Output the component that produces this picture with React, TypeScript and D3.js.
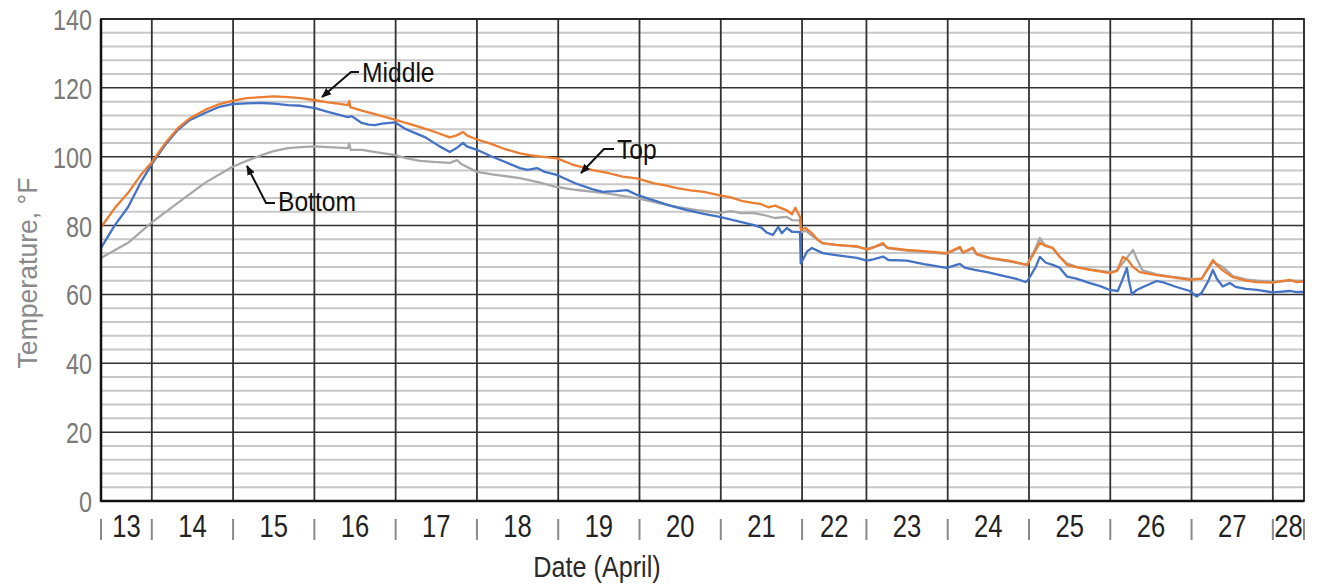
import * as d3 from 'd3'

// day labels along the bottom and how many logged hours fall in each day
const days = [13, 14, 15, 16, 17, 18, 19, 20, 21, 22, 23, 24, 25, 26, 27, 28]
const dayHours = [15, 24, 24, 24, 24, 24, 24, 24, 24, 19, 24, 24, 24, 24, 24, 9.2]

const yTicks = [0, 20, 40, 60, 80, 100, 120, 140]

// [hours since start of record, temperature F]
const middle: [number, number][] = [
  [0, 79.5], [4, 85], [8, 89.5], [12, 95], [15.1, 98.5], [19, 104], [22.7, 108.3], [26, 111],
  [30.7, 113.6], [35, 115.3], [38.7, 116.2], [43, 117], [47.5, 117.3], [51, 117.5], [55.2, 117.3],
  [59, 117], [63.2, 116.4], [67, 115.8], [70, 115.4], [72.9, 115], [73.3, 116.2], [73.6, 114.4],
  [77, 113.4], [80.9, 112.4], [84, 111.5], [86.8, 110.8], [90, 109.8], [94.2, 108.6], [98, 107.4],
  [103, 105.6], [105, 106.2], [106.9, 107.2], [108, 106.2], [111, 105], [115, 103.8], [119, 102.3],
  [123.7, 101], [127, 100.4], [130, 100], [134.6, 99.5], [139, 97.8], [145.2, 96.1], [150, 95.2],
  [154, 94.2], [158.2, 93.7], [163, 92.3], [167, 91.6], [170, 90.9], [174, 90.2], [178, 89.8],
  [182.7, 88.8], [186, 88.2], [189, 87.2], [192.5, 86.6], [195, 86.2], [197, 85.3], [199, 85.8],
  [202.5, 84.4], [204, 83.3], [205, 85.2], [206.4, 82.5], [206.7, 78.7], [208, 79.3], [209.9, 77.8],
  [211.5, 76], [213.1, 74.9], [217, 74.4], [220, 74.2], [223.2, 74], [226.1, 73], [228, 73.6],
  [230.9, 74.9], [232, 73.6], [237.9, 72.9], [243, 72.6], [249.7, 72], [253.6, 73.8], [254.5, 72.2],
  [257.4, 73.6], [258.5, 71.8], [262.4, 70.6], [268, 69.8], [273.4, 68.6], [275.5, 72], [277.2, 75],
  [279, 74], [281, 73.5], [283, 71], [285.2, 68.6], [288, 67.9], [292, 67.1], [297.9, 66.2],
  [300, 66.8], [301.7, 70.9], [303, 70.2], [304.7, 68], [306.7, 66.5], [311.7, 65.6], [316, 65],
  [321.5, 64.2], [325, 64.6], [328.3, 70], [329.5, 68.5], [331.2, 67], [334.2, 65], [338, 64],
  [341.3, 63.6], [346, 63.4], [351, 64.2], [353, 63.6], [355.2, 63.8],
]

const top: [number, number][] = [
  [0, 73.5], [4, 80], [8, 85.4], [12, 93], [15.1, 98], [19, 103.5], [22.7, 107.8], [26, 110.5],
  [30.7, 112.7], [35, 114.5], [38.7, 115.3], [43, 115.5], [47.5, 115.6], [51, 115.4], [55.2, 115],
  [59, 114.8], [63.2, 114.1], [67, 113], [72.9, 111.5], [74, 111.8], [77, 109.8], [79, 109.3],
  [80.9, 109.2], [83, 109.6], [86.8, 110], [90, 108], [95.6, 105.7], [100, 103], [103, 101.4],
  [105, 102.5], [106.9, 104], [108, 103], [111, 102], [115, 100.2], [119, 98.6], [123.7, 96.7],
  [126, 96.2], [128.7, 96.7], [131, 95.6], [134.6, 94.7], [140, 92.3], [145, 90.6], [148.2, 89.8],
  [152, 90], [155.3, 90.3], [158, 89], [163, 87.4], [168, 85.8], [173, 84.5], [178, 83.4],
  [182.7, 82.5], [187, 81.5], [192.5, 80.2], [195, 79.4], [196.5, 78], [198.4, 77.3], [200, 79.6],
  [201, 77.8], [202.5, 79.3], [204, 78.2], [206.4, 78.1], [206.6, 69], [207.2, 70], [208.5, 72.5],
  [209.9, 73.5], [213.1, 72], [217, 71.4], [223.2, 70.6], [226.1, 69.8], [228, 70.2], [230.9, 71],
  [232.5, 70], [237.9, 69.8], [243, 68.8], [249.7, 67.7], [253.6, 68.9], [255, 67.8], [258, 67.1],
  [262, 66.4], [265.4, 65.6], [270, 64.6], [273, 63.6], [273.6, 64], [274.2, 65], [276, 68],
  [277.2, 70.9], [279, 69.2], [281, 68.6], [283, 67.8], [285.2, 65.2], [288, 64.6], [292, 63.3],
  [295, 62.4], [297.9, 61.3], [300.2, 61], [301.5, 64], [302.9, 67.7], [303.5, 64], [304.4, 60],
  [305.8, 61.3], [308, 62.3], [311.7, 63.9], [314, 63.4], [317.1, 62.3], [321.5, 61], [323.5, 59.4],
  [325, 60.5], [327, 64], [328.3, 67.1], [329.5, 64.5], [331.2, 62.3], [333.3, 63.3], [335, 62.2],
  [338, 61.6], [341.3, 61.3], [346, 60.6], [351, 61], [353, 60.7], [355.2, 60.7],
]

const bottom: [number, number][] = [
  [0, 70.6], [8, 75], [15.1, 81], [22.7, 86.6], [30.7, 92.4], [38.7, 97], [43, 98.8], [47.5, 100.5],
  [51, 101.6], [55.2, 102.5], [59, 102.8], [63.2, 103], [67, 102.8], [72.9, 102.5], [73.3, 103.8],
  [73.7, 102], [77, 102], [82, 101.2], [86.8, 100.5], [90, 99.6], [94.2, 98.8], [98, 98.5],
  [103, 98.2], [105.1, 99], [106.5, 97.8], [111, 95.6], [116, 94.8], [123.7, 93.8], [129, 92.6],
  [134.6, 91.2], [140, 90.4], [148.2, 89.5], [153, 88.8], [158.2, 88], [164, 86.7], [170, 85.4],
  [176, 84.5], [182.7, 83.7], [186, 84.2], [189, 83.6], [192.5, 83.7], [196, 83], [199, 82.2],
  [202.5, 82.5], [204, 81.6], [206.4, 81.5], [206.7, 78], [208, 78.5], [210, 77], [213.1, 74.8],
  [217, 74.4], [223.2, 73.8], [226.1, 73.2], [230.9, 74.5], [232.5, 73.4], [237.9, 72.7], [243, 72.3],
  [249.7, 71.8], [253.6, 73.5], [254.5, 72], [257.4, 73.4], [258.5, 71.6], [262.4, 70.5], [268, 69.6],
  [273.4, 68.6], [275.5, 72.5], [277.2, 76.4], [278.5, 74.5], [281, 73.5], [283, 71], [285.2, 69],
  [288, 68], [292, 67.3], [297.9, 66.5], [300, 67], [302, 69.5], [304.7, 72.9], [306, 70],
  [307.5, 67], [311.7, 65.8], [316, 65.2], [321.5, 64.5], [325, 64.6], [327, 67.5], [328.3, 69.5],
  [329.5, 68.8], [331.2, 68], [334.2, 65.3], [338, 64.4], [341.3, 64], [346, 63.6], [351, 64],
  [355.2, 63.9],
]

const W = 1321
const H = 584
const left = 101
const right = 1304
const plotTop = 19
const plotBottom = 501
const font = '"Liberation Sans", Arial, sans-serif'

export default function App() {
  const totalHours = d3.sum(dayHours)
  const x = d3.scaleLinear().domain([0, totalHours]).range([left, right])
  const y = d3.scaleLinear().domain([0, 140]).range([plotBottom, plotTop])

  // day boundaries in record hours
  const bounds = [0, ...d3.cumsum(dayHours)]
  const inner = bounds.slice(1, -1)
  const minor = d3.range(0, 141, 4).filter(v => v % 20 !== 0)

  const line = d3.line<[number, number]>()
    .x(d => x(d[0]))
    .y(d => y(d[1]))

  const series = [
    { data: bottom, color: '#a8a8a8' },
    { data: top, color: '#4472c4' },
    { data: middle, color: '#ed7d31' },
  ]

  return (
    <svg width={W} height={H} style={{ position: 'absolute', left: 0, top: 0, background: '#fff' }}>
      <defs>
        <marker id="arr" viewBox="0 0 10 10" refX="9" refY="5" markerWidth="5" markerHeight="5" orient="auto">
          <path d="M0,1 L10,5 L0,9 z" fill="#111" />
        </marker>
      </defs>

      {/* minor grid */}
      {minor.map(v => (
        <line key={'m' + v} x1={left} x2={right} y1={y(v)} y2={y(v)} stroke="#c8c8c8" strokeWidth={2} />
      ))}
      {/* major grid */}
      {yTicks.map(v => (
        <line key={'g' + v} x1={left} x2={right} y1={y(v)} y2={y(v)} stroke="#333" strokeWidth={1.5} />
      ))}
      {inner.map(h => (
        <line key={'v' + h} x1={x(h)} x2={x(h)} y1={plotTop} y2={plotBottom} stroke="#333" strokeWidth={1.8} />
      ))}

      {series.map((s, i) => (
        <path key={i} d={line(s.data) ?? ''} fill="none" stroke={s.color} strokeWidth={2.3} strokeLinejoin="round" />
      ))}

      {/* frame */}
      <rect x={left} y={plotTop} width={right - left} height={plotBottom - plotTop} fill="none" stroke="#222" strokeWidth={1.8} />
      <line x1={left} x2={left} y1={plotTop} y2={plotBottom + 1} stroke="#111" strokeWidth={2.5} />
      <line x1={left} x2={right} y1={plotBottom} y2={plotBottom} stroke="#111" strokeWidth={2.5} />

      {/* y labels */}
      {yTicks.map(v => (
        <text key={'yl' + v} transform={`translate(92,${y(v) + 11}) scale(0.78,1)`} textAnchor="end"
          fontFamily={font} fontSize={30} fill="#7a7a7a">{v}</text>
      ))}

      {/* x ticks + day labels */}
      {bounds.map(h => (
        <line key={'t' + h} x1={x(h)} x2={x(h)} y1={519} y2={540} stroke="#8a8a8a" strokeWidth={2} />
      ))}
      {days.map((d, i) => (
        <text key={'d' + d} transform={`translate(${x((bounds[i] + bounds[i + 1]) / 2)},537) scale(0.8,1)`}
          textAnchor="middle" fontFamily={font} fontSize={32} fill="#222">{d}</text>
      ))}

      <text transform="translate(597,577) scale(0.84,1)" textAnchor="middle" fontFamily={font} fontSize={30} fill="#2a2a2a">
        Date (April)
      </text>
      <text transform="translate(37,273) rotate(-90) scale(0.95,1)" textAnchor="middle" fontFamily={font} fontSize={28} fill="#8a8a8a">
        Temperature, °F
      </text>

      {/* callouts */}
      <polyline points="359,72 351,72 322,97" fill="none" stroke="#111" strokeWidth={2} markerEnd="url(#arr)" />
      <text transform="translate(362,82) scale(0.88,1)" fontFamily={font} fontSize={28} fill="#111">Middle</text>

      <polyline points="614,149 604,149 581,173" fill="none" stroke="#111" strokeWidth={2} markerEnd="url(#arr)" />
      <text transform="translate(617,159) scale(0.88,1)" fontFamily={font} fontSize={28} fill="#111">Top</text>

      <polyline points="275,203 266,203 247,166" fill="none" stroke="#111" strokeWidth={2} markerEnd="url(#arr)" />
      <text transform="translate(278,211) scale(0.88,1)" fontFamily={font} fontSize={28} fill="#111">Bottom</text>
    </svg>
  )
}
